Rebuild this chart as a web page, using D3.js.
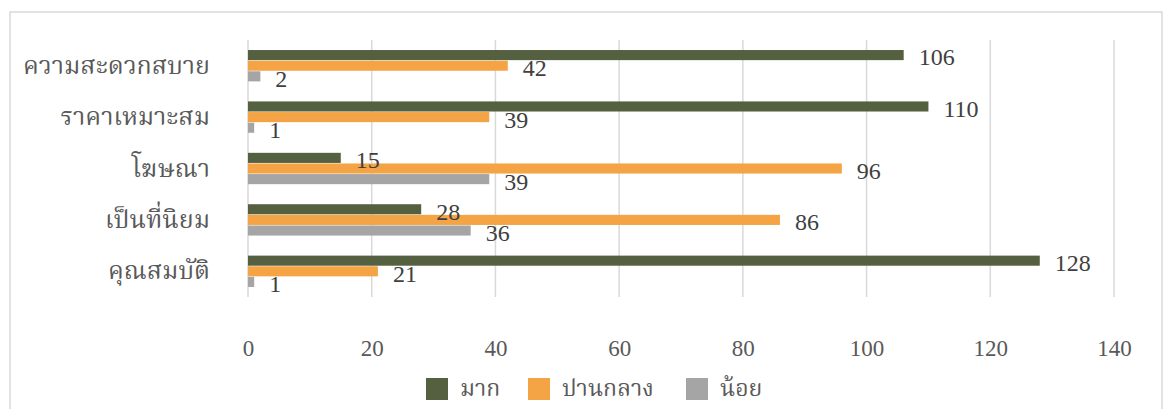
<!DOCTYPE html>
<html>
<head>
<meta charset="utf-8">
<script src="https://cdn.jsdelivr.net/npm/d3@7"></script>
<style>
  body { margin: 0; background: #fff; }
  .thai { font-family: "Angsana New", "Noto Serif Thai", "Noto Sans Thai", "Liberation Serif", serif; }
  .num { font-family: "Liberation Serif", "Times New Roman", serif; }
</style>
</head>
<body>
<div id="chart"></div>
<script>
// categories top to bottom
const categories = ['ความสะดวกสบาย', 'ราคาเหมาะสม', 'โฆษณา', 'เป็นที่นิยม', 'คุณสมบัติ'];
const seriesNames = ['มาก', 'ปานกลาง', 'น้อย'];
const seriesColors = ['#556040', '#F4A444', '#A5A5A5'];
// values per series, same order as categories
const valuesMak = [106, 110, 15, 28, 128];
const valuesPanklang = [42, 39, 96, 86, 21];
const valuesNoi = [2, 1, 39, 36, 1];
const xTicks = [0, 20, 40, 60, 80, 100, 120, 140];

const seriesValues = [valuesMak, valuesPanklang, valuesNoi];

const width = 1163, height = 409;
const margin = { top: 40, right: 49, bottom: 112, left: 248 };
const innerW = width - margin.left - margin.right;
const innerH = height - margin.top - margin.bottom;

const svg = d3.select('#chart').append('svg')
    .attr('width', width)
    .attr('height', height);

// outer chart border
svg.append('rect')
    .attr('x', 10).attr('y', 12)
    .attr('width', 1152).attr('height', 420)
    .attr('fill', 'none')
    .attr('stroke', '#d9d9d9')
    .attr('stroke-width', 1.5);

const chart = svg.append('g')
    .attr('transform', `translate(${margin.left},${margin.top})`);

const xScale = d3.scaleLinear().domain([0, 140]).range([0, innerW]);

const yScale = d3.scaleBand()
    .domain(categories)
    .range([0, innerH])
    .paddingInner(0.39)
    .paddingOuter(0.195);

const ySub = d3.scaleBand()
    .domain(seriesNames)
    .range([0, yScale.bandwidth()])
    .paddingInner(0.05);

// vertical gridlines
chart.append('g')
    .selectAll('line')
    .data(xTicks)
    .join('line')
    .attr('x1', d => xScale(d)).attr('x2', d => xScale(d))
    .attr('y1', 0).attr('y2', innerH)
    .attr('stroke', '#d9d9d9')
    .attr('stroke-width', 1.5);

// x axis tick labels
const xAxis = d3.axisBottom(xScale).tickValues(xTicks).tickSize(0).tickPadding(0);
const xAxisG = chart.append('g')
    .attr('transform', `translate(0,${innerH + 52})`)
    .call(xAxis);
xAxisG.select('.domain').remove();
xAxisG.selectAll('text')
    .attr('class', 'num')
    .attr('fill', '#595959')
    .attr('font-size', 23)
    .attr('dy', '0.32em');

// category labels
const yAxis = d3.axisLeft(yScale).tickSize(0).tickPadding(38);
const yAxisG = chart.append('g').call(yAxis);
yAxisG.select('.domain').remove();
yAxisG.selectAll('text')
    .attr('class', 'thai')
    .attr('fill', '#595959')
    .attr('font-size', 25)
    .attr('dy', '0.32em');

// flatten bars
const barData = [];
categories.forEach((c, i) => {
    seriesNames.forEach((s, j) => {
        barData.push({ cat: c, series: s, value: seriesValues[j][i], color: seriesColors[j] });
    });
});

chart.append('g')
    .selectAll('rect')
    .data(barData)
    .join('rect')
    .attr('x', 0)
    .attr('y', d => yScale(d.cat) + ySub(d.series))
    .attr('width', d => xScale(d.value))
    .attr('height', ySub.bandwidth())
    .attr('fill', d => d.color);

chart.append('g')
    .selectAll('text')
    .data(barData)
    .join('text')
    .attr('class', 'num')
    .attr('x', d => xScale(d.value) + 15)
    .attr('y', d => yScale(d.cat) + ySub(d.series) + ySub.bandwidth() / 2 + 2)
    .attr('dy', '0.35em')
    .attr('fill', '#404040')
    .attr('font-size', 24)
    .text(d => d.value);

// legend
const legend = svg.append('g').attr('transform', 'translate(426,378)');
const legendX = [0, 102, 260];
const items = legend.selectAll('g')
    .data(seriesNames)
    .join('g')
    .attr('transform', (d, i) => `translate(${legendX[i]},0)`);
items.append('rect')
    .attr('width', 22).attr('height', 22)
    .attr('fill', (d, i) => seriesColors[i]);
items.append('text')
    .attr('class', 'thai')
    .attr('x', 34).attr('y', 11)
    .attr('dy', '0.32em')
    .attr('fill', '#595959')
    .attr('font-size', 23)
    .text(d => d);
</script>
</body>
</html>
